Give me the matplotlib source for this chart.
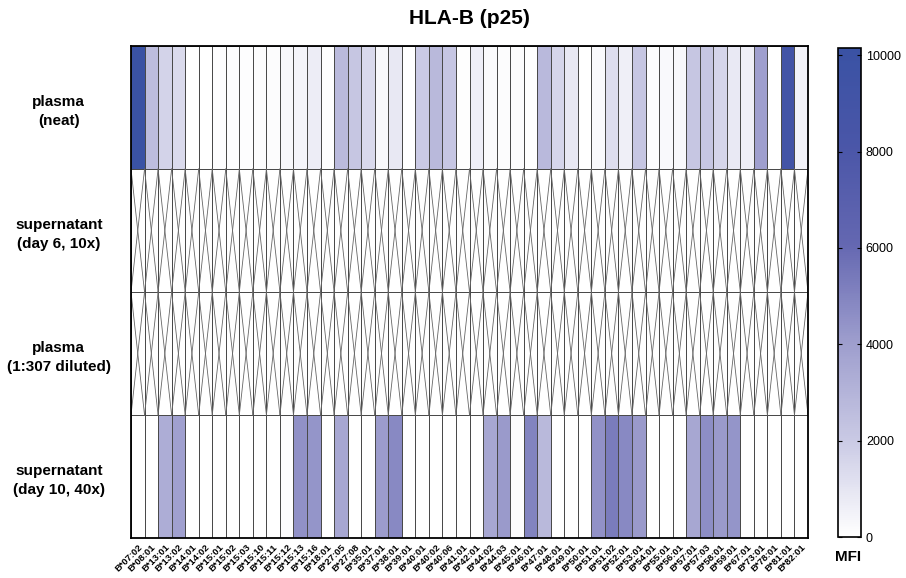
import numpy as np
import matplotlib
matplotlib.use('Agg')
import matplotlib.pyplot as plt
from matplotlib.colors import LinearSegmentedColormap

plt.rcParams['font.family'] = ['Liberation Sans', 'DejaVu Sans']

alleles = ['B*07:02', 'B*08:01', 'B*13:01', 'B*13:02', 'B*14:01', 'B*14:02', 'B*15:01',
           'B*15:02', 'B*15:03', 'B*15:10', 'B*15:11', 'B*15:12', 'B*15:13', 'B*15:16',
           'B*18:01', 'B*27:05', 'B*27:08', 'B*35:01', 'B*37:01', 'B*38:01', 'B*39:01',
           'B*40:01', 'B*40:02', 'B*40:06', 'B*41:01', 'B*42:01', 'B*44:02', 'B*44:03',
           'B*45:01', 'B*46:01', 'B*47:01', 'B*48:01', 'B*49:01', 'B*50:01', 'B*51:01',
           'B*51:02', 'B*52:01', 'B*53:01', 'B*54:01', 'B*55:01', 'B*56:01', 'B*57:01',
           'B*57:03', 'B*58:01', 'B*59:01', 'B*67:01', 'B*73:01', 'B*78:01', 'B*81:01',
           'B*82:01']

samples = ['plasma\n(neat)', 'supernatant\n(day 6, 10x)', 'plasma\n(1:307 diluted)',
           'supernatant\n(day 10, 40x)']

plasma_neat = [10100, 2600, 1700, 1400, 0, 0, 100, 80, 80, 120,
               150, 350, 400, 700, 50, 2700, 2200, 1450, 300, 900,
               0, 2000, 2800, 2150, 50, 650, 200, 150, 150, 0,
               2750, 1600, 900, 30, 250, 1300, 600, 2200, 100, 250,
               280, 2200, 2200, 1600, 850, 600, 4000, 0, 9000, 450]
sup_day6 = [np.nan] * 50
plasma_diluted = [np.nan] * 50
sup_day10 = [0, 0, 3300, 3900, 0, 0, 0, 0, 0, 0,
             0, 80, 4500, 4400, 0, 3600, 0, 0, 4100, 4800,
             0, 0, 0, 0, 0, 0, 3600, 4200, 150, 5000,
             2800, 0, 0, 0, 4500, 5300, 4800, 4200, 0, 0,
             0, 3600, 4600, 4200, 4400, 0, 0, 0, 0, 30]

data = np.array([plasma_neat, sup_day6, plasma_diluted, sup_day10], dtype=float)

cmap = LinearSegmentedColormap.from_list(
    'mfi', [(0.0, '#ffffff'), (0.2, '#c9c9e4'), (0.4, '#9d9dcd'),
            (0.6, '#6467b1'), (0.8, '#4a56a8'), (1.0, '#3a52a4')])
cmap.set_bad('white')
vmax = 10150

fig = plt.figure(figsize=(9.06, 5.78), dpi=100)
ax = fig.add_axes([131 / 906, 1 - 538 / 578, 677 / 906, 492 / 578])
nrows, ncols = data.shape
mesh = ax.pcolormesh(np.ma.masked_invalid(data), cmap=cmap, vmin=0, vmax=vmax,
                     edgecolors='#4a4a4a', linewidth=0.6)
ax.set_xlim(0, ncols)
ax.set_ylim(nrows, 0)

# crossed cells for missing data
for r in range(nrows):
    for c in range(ncols):
        if np.isnan(data[r, c]):
            ax.plot([c, c + 1], [r, r + 1], color='#666666', lw=0.6)
            ax.plot([c + 1, c], [r, r + 1], color='#666666', lw=0.6)

ax.set_xticks(np.arange(ncols) + 0.5)
ax.set_xticklabels(alleles, rotation=45, ha='right', rotation_mode='anchor',
                   fontsize=6.8, fontweight='bold')
ax.set_yticks(np.arange(nrows) + 0.5)
ax.set_yticklabels(samples, fontsize=11, fontweight='bold', ha='center')
for t in ax.get_yticklabels():
    t.set_linespacing(1.45)
ax.tick_params(axis='y', length=0, pad=52)
ax.tick_params(axis='x', length=0, pad=3)
for s in ax.spines.values():
    s.set_linewidth(1.3)

fig.text(469 / 906, 1 - 18 / 578, 'HLA-B (p25)', ha='center', va='center',
         fontsize=15, fontweight='bold')

cax = fig.add_axes([838 / 906, 1 - 537 / 578, 23 / 906, 489 / 578])
cb = fig.colorbar(mesh, cax=cax, ticks=[0, 2000, 4000, 6000, 8000, 10000])
cb.ax.tick_params(labelsize=9, length=3, direction='in', left=True, right=True)
cb.outline.set_linewidth(1.2)
fig.text(848 / 906, 1 - 557 / 578, 'MFI', ha='center', va='center',
         fontsize=11, fontweight='bold')

fig.savefig('out.png', dpi=100)
